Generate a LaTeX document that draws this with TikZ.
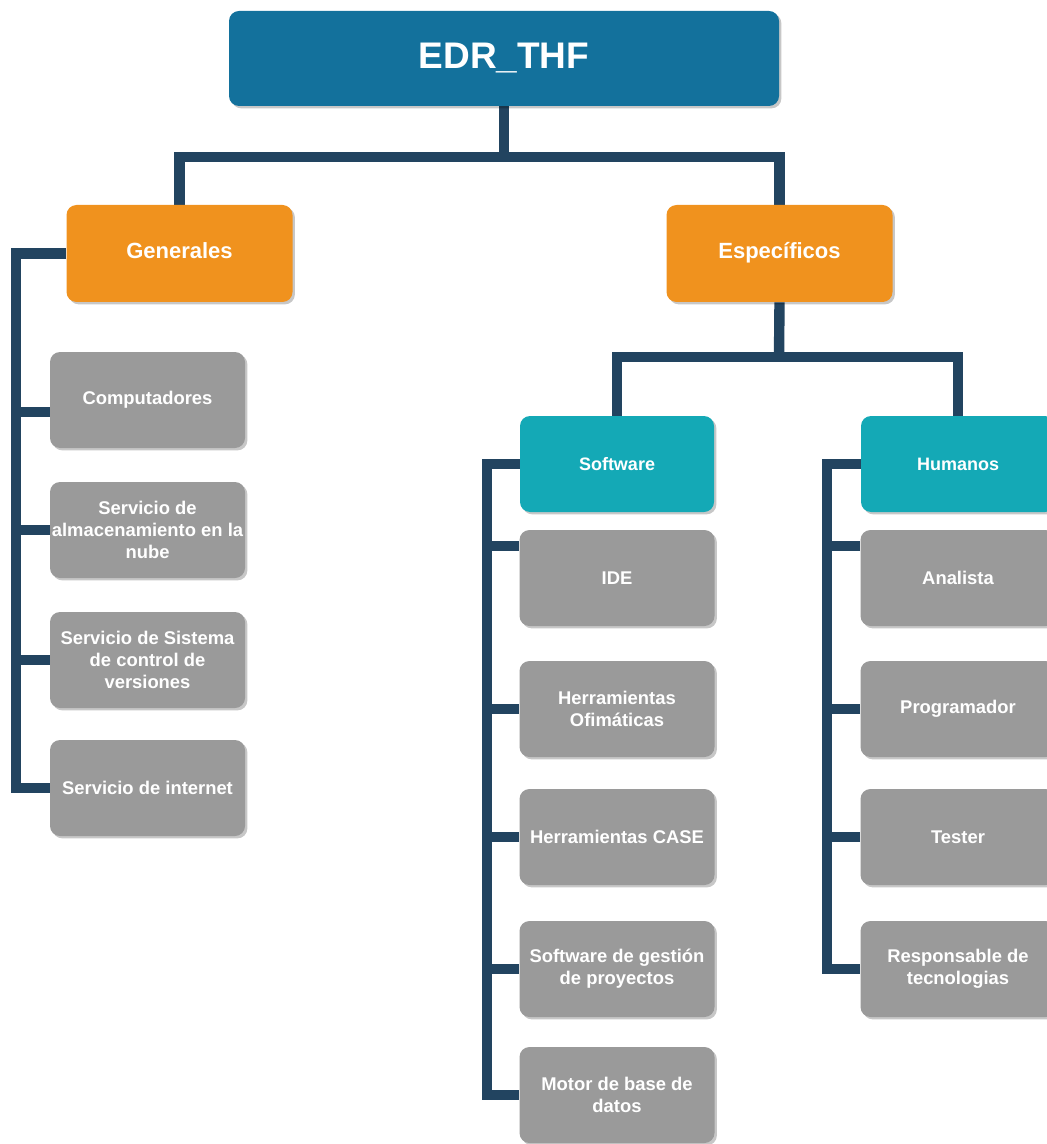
\documentclass[tikz,border=0pt]{standalone}
\usepackage{fontspec}
\setmainfont{Liberation Sans}
\usetikzlibrary{shadows,backgrounds}
\definecolor{topblue}{RGB}{19,113,156}
\definecolor{orangec}{RGB}{240,146,30}
\definecolor{tealc}{RGB}{20,169,182}
\definecolor{grayc}{RGB}{154,154,154}
\definecolor{navy}{RGB}{34,68,96}
\begin{document}
\begin{tikzpicture}[x=0.5pt,y=-0.5pt,
  box/.style={rounded corners=5pt, text=white, align=center, inner sep=0pt,
    drop shadow={shadow xshift=1.2pt, shadow yshift=-1.2pt, fill=black, opacity=0.22}},
  topbox/.style={box, fill=topblue, minimum width=275pt, minimum height=47.5pt,
    font=\bfseries\fontsize{18.5}{22}\selectfont},
  catbox/.style={box, fill=orangec, minimum width=113pt, minimum height=48.5pt,
    text height=8pt, text depth=2.5pt,
    font=\bfseries\fontsize{11}{13}\selectfont},
  subbox/.style={box, fill=tealc, minimum width=97pt, minimum height=48pt,
    font=\bfseries\fontsize{9}{11}\selectfont},
  leaf/.style={box, fill=grayc, minimum width=97.5pt, minimum height=48pt,
    font=\bfseries\fontsize{9.2}{11}\selectfont},
  conn/.style={draw=navy, line width=5.2pt, line join=miter}]
\useasboundingbox (0,0) rectangle (1046,1144);

% top and categories
\node[topbox] (top) at (504,58.5) {EDR\_THF};
\node[catbox] (gen) at (179.5,253.5) {Generales};
\node[catbox] (esp) at (779.5,253.5) {Específicos};

% generales leaves
\node[leaf] (comp) at (147.5,400) {Computadores};
\node[leaf] (alm) at (147.5,530) {Servicio de\\almacenamiento en la\\nube};
\node[leaf] (scv) at (147.5,660) {Servicio de Sistema\\de control de\\versiones};
\node[leaf] (inet) at (147.5,788) {Servicio de internet};

% especificos subcategories
\node[subbox] (soft) at (617,464) {Software};
\node[subbox] (hum) at (958,464) {Humanos};

% software leaves
\node[leaf] (ide) at (617,578) {IDE};
\node[leaf] (ofi) at (617,709) {Herramientas\\Ofimáticas};
\node[leaf] (case) at (617,837) {Herramientas CASE};
\node[leaf] (gest) at (617,969) {Software de gestión\\de proyectos};
\node[leaf] (motor) at (617,1095) {Motor de base de\\datos};

% humanos leaves
\node[leaf] (ana) at (958,578) {Analista};
\node[leaf] (prog) at (958,709) {Programador};
\node[leaf] (test) at (958,837) {Tester};
\node[leaf] (resp) at (958,969) {Responsable de\\tecnologias};

\begin{pgfonlayer}{background}
  \coordinate (b1) at (504,157);
  \coordinate (b2) at (779,357);
  \coordinate (sp1) at (16,600);
  \coordinate (sp2) at (487,800);
  \coordinate (sp3) at (827,800);
  \draw[conn] (top.south) -- (b1);
  \draw[conn] (gen.north) |- (b1) -| (esp.north);
  \draw[conn] (esp.south) -- (b2);
  \draw[conn] (soft.north) |- (b2) -| (hum.north);
  % generales spine
  \draw[conn] (gen.west) -| (sp1) |- (inet.west);
  \draw[conn] ([yshift=-6pt]comp.west) -- ([yshift=-6pt]comp.west -| sp1);
  \draw[conn] (alm.west) -- (alm.west -| sp1);
  \draw[conn] (scv.west) -- (scv.west -| sp1);
  % software spine
  \draw[conn] (soft.west) -| (sp2) |- (motor.west);
  \draw[conn] ([yshift=16pt]ide.west) -- ([yshift=16pt]ide.west -| sp2);
  \draw[conn] (ofi.west) -- (ofi.west -| sp2);
  \draw[conn] (case.west) -- (case.west -| sp2);
  \draw[conn] (gest.west) -- (gest.west -| sp2);
  % humanos spine
  \draw[conn] (hum.west) -| (sp3) |- (resp.west);
  \draw[conn] ([yshift=16pt]ana.west) -- ([yshift=16pt]ana.west -| sp3);
  \draw[conn] (prog.west) -- (prog.west -| sp3);
  \draw[conn] (test.west) -- (test.west -| sp3);
\end{pgfonlayer}
\end{tikzpicture}
\end{document}
